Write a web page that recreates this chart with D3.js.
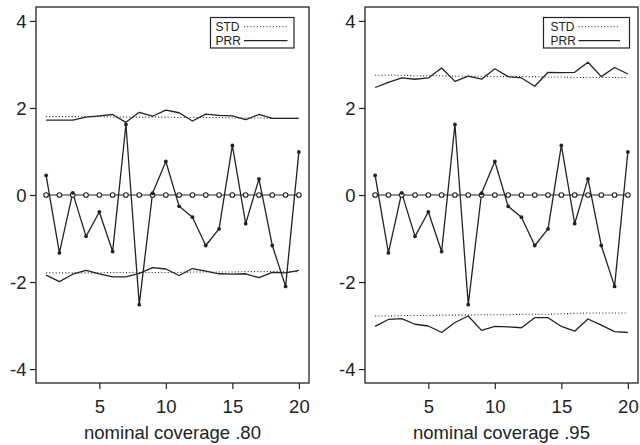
<!DOCTYPE html>
<html>
<head>
<meta charset="utf-8">
<script src="https://cdn.jsdelivr.net/npm/d3@7"></script>
<style>
  html, body { margin: 0; padding: 0; background: #fff; }
  svg { display: block; font-family: "Liberation Sans", Arial, sans-serif; }
</style>
</head>
<body>
<svg id="chart" width="640" height="445"></svg>
<script>
// ---- data ----
const runs = [1,2,3,4,5,6,7,8,9,10,11,12,13,14,15,16,17,18,19,20];
const xTicks = [5, 10, 15, 20];
const yTicks = [-4, -2, 0, 2, 4];
const panelTitles = ["nominal coverage .80", "nominal coverage .95"];
const legendLabels = ["STD", "PRR"];

const centered = [0.45,-1.33,0.05,-0.95,-0.39,-1.30,1.62,-2.52,0.04,0.77,-0.26,-0.51,-1.16,-0.78,1.14,-0.66,0.37,-1.16,-2.10,0.99];
const zeroLine = [0,0,0,0,0,0,0,0,0,0,0,0,0,0,0,0,0,0,0,0];

const stdUpper80 = [1.80,1.80,1.80,1.80,1.80,1.79,1.79,1.79,1.79,1.79,1.78,1.78,1.78,1.78,1.77,1.77,1.77,1.76,1.76,1.76];
const stdLower80 = [-1.79,-1.79,-1.79,-1.79,-1.79,-1.78,-1.78,-1.78,-1.78,-1.78,-1.78,-1.77,-1.77,-1.77,-1.77,-1.76,-1.76,-1.76,-1.76,-1.76];
const prrUpper80 = [1.72,1.72,1.72,1.79,1.82,1.85,1.67,1.90,1.81,1.95,1.89,1.70,1.86,1.83,1.82,1.73,1.85,1.76,1.76,1.76];
const prrLower80 = [-1.84,-1.99,-1.82,-1.73,-1.81,-1.88,-1.88,-1.80,-1.67,-1.70,-1.85,-1.69,-1.75,-1.81,-1.82,-1.81,-1.90,-1.78,-1.79,-1.73];

const stdUpper95 = [2.75,2.75,2.75,2.74,2.74,2.74,2.73,2.73,2.73,2.72,2.72,2.72,2.72,2.71,2.71,2.70,2.70,2.70,2.70,2.70];
const stdLower95 = [-2.78,-2.78,-2.77,-2.77,-2.77,-2.76,-2.76,-2.76,-2.75,-2.75,-2.75,-2.74,-2.74,-2.74,-2.73,-2.72,-2.71,-2.71,-2.71,-2.71];
const prrUpper95 = [2.47,2.59,2.69,2.66,2.69,2.92,2.61,2.73,2.66,2.90,2.72,2.69,2.50,2.82,2.81,2.82,3.05,2.72,2.93,2.78];
const prrLower95 = [-3.02,-2.86,-2.84,-2.97,-3.01,-3.16,-2.93,-2.78,-3.11,-3.02,-3.03,-3.05,-2.82,-2.82,-3.02,-3.13,-2.85,-2.99,-3.14,-3.16];

// ---- layout ----
const INK = "#222";
const panels = [
  { left: 36, right: 309, title: panelTitles[0], std: [stdUpper80, stdLower80], prr: [prrUpper80, prrLower80],
    legend: { x0: 210.5, x1: 294, textX: 215.5, lineX0: 244, lineX1: 287.5 } },
  { left: 365, right: 638, title: panelTitles[1], std: [stdUpper95, stdLower95], prr: [prrUpper95, prrLower95],
    legend: { x0: 543.5, x1: 629.5, textX: 550.5, lineX0: 578.5, lineX1: 620 } }
];
const plotTop = 7, plotBottom = 383;
const legTop = 17.5, legBottom = 48;

const svg = d3.select("#chart");

panels.forEach(p => {
  const x = d3.scaleLinear().domain([0.24, 20.76]).range([p.left, p.right]);
  const y = d3.scaleLinear().domain([-4.32, 4.32]).range([plotBottom, plotTop]);
  const g = svg.append("g");
  const line = d3.line().x((d, i) => x(runs[i])).y(d => y(d));

  // STD dotted lines
  p.std.forEach(s => {
    g.append("path").attr("d", line(s)).attr("fill", "none")
      .attr("stroke", INK).attr("stroke-width", 1.1).attr("stroke-dasharray", "1,2.2");
  });
  // PRR solid lines
  p.prr.forEach(s => {
    g.append("path").attr("d", line(s)).attr("fill", "none")
      .attr("stroke", INK).attr("stroke-width", 1.3).attr("stroke-linejoin", "round");
  });

  // zero line with open circles
  g.append("path").attr("d", line(zeroLine)).attr("fill", "none")
    .attr("stroke", INK).attr("stroke-width", 1.2);
  // centered series with filled points
  g.append("path").attr("d", line(centered)).attr("fill", "none")
    .attr("stroke", INK).attr("stroke-width", 1.3).attr("stroke-linejoin", "round");
  g.selectAll(".open").data(zeroLine).enter().append("circle")
    .attr("cx", (d, i) => x(runs[i])).attr("cy", d => y(d)).attr("r", 2.3)
    .attr("fill", "#fff").attr("stroke", INK).attr("stroke-width", 1.1);
  g.selectAll(".filled").data(centered).enter().append("circle")
    .attr("cx", (d, i) => x(runs[i])).attr("cy", d => y(d)).attr("r", 1.9)
    .attr("fill", INK);

  // box
  g.append("rect").attr("x", p.left).attr("y", plotTop)
    .attr("width", p.right - p.left).attr("height", plotBottom - plotTop)
    .attr("fill", "none").attr("stroke", INK).attr("stroke-width", 1.3);

  // axes
  const ax = g.append("g").attr("transform", `translate(0,${plotBottom})`)
    .call(d3.axisBottom(x).tickValues(xTicks).tickSize(6).tickPadding(6).tickFormat(d3.format("d")));
  const ay = g.append("g").attr("transform", `translate(${p.left},0)`)
    .call(d3.axisLeft(y).tickValues(yTicks).tickSize(6).tickPadding(3.5).tickFormat(d => d < 0 ? "-" + Math.abs(d) : String(d)));
  [ax, ay].forEach(a => {
    a.select(".domain").remove();
    a.selectAll(".tick line").attr("stroke", INK).attr("stroke-width", 1.2);
    a.selectAll(".tick text").attr("fill", INK).style("font-size", "18.5px")
      .style("font-family", '"Liberation Sans", Arial, sans-serif');
  });
  ax.selectAll(".tick text").attr("y", 0).attr("dy", 0).attr("transform", "translate(0,30)");
  ay.selectAll(".tick text").attr("dy", "0.35em");

  // axis title
  g.append("text").attr("x", (p.left + p.right) / 2).attr("y", 439)
    .attr("text-anchor", "middle").attr("fill", INK).style("font-size", "18.5px")
    .text(p.title);

  // legend
  const L = p.legend;
  g.append("rect").attr("x", L.x0).attr("y", legTop).attr("width", L.x1 - L.x0).attr("height", legBottom - legTop)
    .attr("fill", "#fff").attr("stroke", INK).attr("stroke-width", 1.2);
  g.append("text").attr("x", L.textX).attr("y", 31).attr("fill", INK)
    .style("font-size", "12px").text(legendLabels[0]);
  g.append("text").attr("x", L.textX).attr("y", 45).attr("fill", INK)
    .style("font-size", "12px").text(legendLabels[1]);
  g.append("line").attr("x1", L.lineX0).attr("x2", L.lineX1).attr("y1", 26.7).attr("y2", 26.7)
    .attr("stroke", INK).attr("stroke-width", 1).attr("stroke-dasharray", "1,2.2");
  g.append("line").attr("x1", L.lineX0).attr("x2", L.lineX1).attr("y1", 40.7).attr("y2", 40.7)
    .attr("stroke", INK).attr("stroke-width", 1.2);
});
</script>
</body>
</html>
